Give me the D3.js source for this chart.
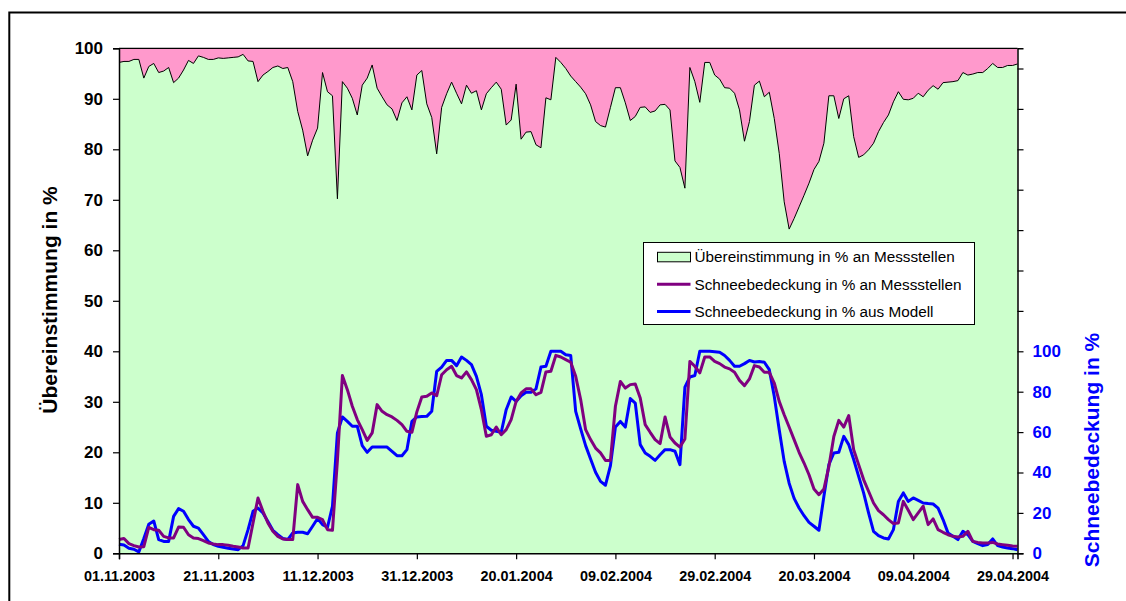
<!DOCTYPE html>
<html>
<head>
<meta charset="utf-8">
<script src="https://cdn.jsdelivr.net/npm/d3@7/dist/d3.min.js"></script>
<style>
  html, body { margin: 0; padding: 0; background: #ffffff; }
  svg { display: block; }
  text { font-family: "Liberation Sans", Arial, sans-serif; }
</style>
</head>
<body>
<svg id="chart" width="1126" height="601"></svg>
<script>
// ---------- DATA (daily, starting 01.11.2003) ----------
const startDate = "01.11.2003";
const tickLabels = ["01.11.2003","21.11.2003","11.12.2003","31.12.2003","20.01.2004",
                    "09.02.2004","29.02.2004","20.03.2004","09.04.2004","29.04.2004"];
const leftTicks = [0,10,20,30,40,50,60,70,80,90,100];
const rightTicks = [0,20,40,60,80,100,120,140,160,180,200,220,240];
const seriesNames = ["Übereinstimmung in % an Messstellen",
                     "Schneebedeckung in % an Messstellen",
                     "Schneebedeckung in % aus Modell"];

const agreement = [
 97.2,97.4,97.4,97.8,97.8,94.1,96.4,97.0,95.2,95.5,96.2,93.2,94.1,95.7,97.6,97.0,98.5,98.2,97.8,97.8,
 98.1,98.0,98.1,98.2,98.3,98.8,97.5,97.4,93.4,94.7,95.4,96.2,96.5,96.0,96.2,93.4,87.5,83.8,78.7,81.8,
 84.2,95.2,91.4,90.6,70.2,93.4,92.1,90.1,86.8,92.7,94.1,96.7,92.1,90.4,88.8,88.0,85.7,89.2,90.4,87.8,
 94.7,95.6,89.0,86.3,79.1,88.3,91.0,93.3,91.1,89.0,92.7,91.1,91.6,87.8,91.0,92.2,93.3,91.9,84.8,85.8,
 92.9,82.0,83.4,83.5,80.9,80.3,90.2,89.8,98.2,97.2,96.0,94.5,93.4,92.3,91.0,88.8,85.5,84.7,84.4,88.3,
 92.2,92.2,89.2,85.7,86.5,88.3,88.4,87.3,87.6,88.8,88.9,87.8,77.7,76.4,72.3,96.2,93.4,89.3,97.2,97.2,
 94.7,93.9,92.2,92.1,91.1,87.8,81.6,85.5,92.7,93.5,90.4,91.3,86.1,79.2,69.6,64.2,66.3,68.6,70.9,73.3,
 76.0,77.6,81.2,90.6,90.6,86.1,90.0,90.6,82.5,78.4,78.9,79.9,81.2,83.5,85.3,86.8,89.4,91.4,89.9,89.8,
 90.1,91.1,90.4,91.7,92.6,91.9,93.2,93.3,93.4,93.6,95.2,94.7,94.9,95.2,95.2,96.0,97.0,96.2,96.2,96.6,
 96.6,96.9
];

const snowMeasured = [
 6.8,7.3,4.8,3.8,3.1,3.3,12.8,11.7,11.4,8.4,7.6,7.6,13.0,12.9,9.2,7.6,7.3,6.3,5.1,4.6,
 4.3,4.3,4.0,3.5,3.1,2.6,2.6,15.0,27.4,20.8,15.0,10.9,8.4,7.1,6.8,6.8,34.0,25.7,21.6,17.8,
 17.8,16.7,11.7,11.4,46.0,88.0,81.0,72.8,66.2,61.2,55.9,59.6,73.6,70.3,68.6,67.5,65.8,63.7,60.4,59.9,
 70.0,77.4,77.7,79.4,78.0,88.4,90.9,92.6,88.0,86.8,89.8,86.0,81.0,71.1,57.9,58.7,62.5,58.7,61.2,66.2,
 75.2,79.4,81.4,81.4,78.5,79.7,89.8,90.1,98.0,97.2,95.9,94.6,87.6,76.1,61.2,56.3,52.1,49.7,46.0,46.0,
 72.8,85.1,81.8,83.5,83.8,76.9,63.7,59.9,56.3,54.3,67.5,57.6,54.6,52.6,56.6,95.0,92.6,89.3,97.2,97.2,
 95.0,93.9,92.2,91.3,89.6,85.6,83.0,86.3,92.9,92.2,89.6,89.6,84.3,75.2,68.6,62.5,56.3,50.0,44.7,38.9,
 31.8,29.0,31.8,42.9,57.8,65.8,62.5,68.2,51.3,43.9,36.5,30.7,24.9,21.1,19.1,16.7,14.7,15.0,25.7,21.3,
 16.7,20.0,23.3,14.2,17.0,11.7,10.4,9.2,8.4,8.1,8.4,10.9,5.9,5.4,5.1,5.1,5.4,4.6,4.3,4.0,
 3.6,3.5
];

const snowModel = [
 4.5,4.1,2.5,2.0,0.7,7.3,14.4,16.0,6.8,5.9,5.9,18.3,22.1,20.8,16.7,13.4,12.5,9.2,5.9,4.3,
 3.5,3.0,2.5,2.1,1.8,3.8,11.7,20.8,22.4,20.0,15.8,11.4,9.2,7.3,6.8,10.1,10.4,10.4,9.7,13.4,
 17.2,14.2,12.9,23.3,59.6,67.5,65.3,62.9,62.9,53.3,50.0,52.6,52.6,52.6,52.6,50.5,48.3,48.3,51.3,65.3,
 67.5,67.7,67.8,70.3,90.1,92.2,95.5,95.5,92.9,97.2,95.5,93.4,87.6,78.5,62.9,60.9,60.4,59.9,71.1,77.4,
 75.2,78.0,79.7,79.7,81.4,92.2,92.6,100,100,100,98.3,97.9,70.3,61.6,53.3,46.7,40.1,35.6,33.7,43.4,
 62.5,65.3,62.5,76.6,74.4,53.8,49.7,48.0,46.0,48.8,51.3,51.3,50.5,43.9,82.3,87.3,88.0,100,100,100,
 99.8,99.5,97.9,95.5,92.6,92.6,93.9,95.5,94.7,95.0,94.6,90.9,77.7,61.2,45.5,34.7,27.2,22.4,18.6,15.3,
 13.4,11.4,28.2,43.9,49.7,50.0,57.9,53.8,46.4,38.1,29.9,20.0,10.9,8.7,7.6,7.1,11.7,25.7,29.9,25.7,
 27.4,26.2,24.9,24.6,24.4,22.4,16.7,10.1,8.4,6.8,10.9,9.2,5.9,4.8,3.8,4.3,7.1,3.8,3.1,2.6,
 2.3,1.8
];

// ---------- SETUP ----------
const parseD = d3.utcParse("%d.%m.%Y");
const fmtD = d3.utcFormat("%d.%m.%Y");
const t0 = parseD(startDate);
const dates = agreement.map((_, i) => d3.utcDay.offset(t0, i));

const svg = d3.select("#chart");
const L = 119, R = 1017.5, T = 48.3, B = 553.3;

const x = d3.scaleUtc().domain([dates[0], dates[dates.length - 1]]).range([L, R]);
const yL = d3.scaleLinear().domain([0, 100]).range([B, T]);
const yR = d3.scaleLinear().domain([0, 250]).range([B, T]);

const GREEN = "#CCFFCC", PINK = "#FF99CC", PURPLE = "#800080", BLUE = "#0000FF";

// outer chart frame (clipped by the window like the reference)
svg.append("rect").attr("x", 9.3).attr("y", 12.5).attr("width", 1140).attr("height", 620)
  .attr("fill", "none").attr("stroke", "#000").attr("stroke-width", 2);

// plot background (pink)
svg.append("rect").attr("x", L).attr("y", T).attr("width", R - L).attr("height", B - T)
  .attr("fill", PINK);

// agreement area (green)
const area = d3.area().x((d, i) => x(dates[i])).y0(B).y1(d => yL(d));
svg.append("path").datum(agreement).attr("d", area).attr("fill", GREEN);
const topLine = d3.line().x((d, i) => x(dates[i])).y(d => yL(d));
svg.append("path").datum(agreement).attr("d", topLine)
  .attr("fill", "none").attr("stroke", "#000").attr("stroke-width", 1);

// snow lines
const snowLine = d3.line().x((d, i) => x(dates[i])).y(d => yR(d));
svg.append("path").datum(snowModel).attr("d", snowLine)
  .attr("fill", "none").attr("stroke", BLUE).attr("stroke-width", 3).attr("stroke-linejoin", "round");
svg.append("path").datum(snowMeasured).attr("d", snowLine)
  .attr("fill", "none").attr("stroke", PURPLE).attr("stroke-width", 3).attr("stroke-linejoin", "round");

// plot frame top
svg.append("line").attr("x1", L).attr("x2", R).attr("y1", T).attr("y2", T)
  .attr("stroke", "#000").attr("stroke-width", 1.2);

// ---------- AXES ----------
const axL = svg.append("g").attr("transform", `translate(${L},0)`)
  .call(d3.axisLeft(yL).tickValues(leftTicks).tickSize(6).tickPadding(10).tickFormat(d3.format("d")));
axL.selectAll("text").attr("font-size", 17).attr("font-weight", "bold").attr("fill", "#000")
  .attr("font-family", "'Liberation Sans', Arial, sans-serif");

const axR = svg.append("g").attr("transform", `translate(${R},0)`)
  .call(d3.axisRight(yR).tickValues(rightTicks).tickSize(6).tickPadding(9)
    .tickFormat(d => d <= 100 ? d : ""));
axR.selectAll("text").attr("font-size", 17).attr("font-weight", "bold").attr("fill", BLUE)
  .attr("font-family", "'Liberation Sans', Arial, sans-serif");

const axB = svg.append("g").attr("transform", `translate(0,${B})`)
  .call(d3.axisBottom(x).tickValues(tickLabels.map(parseD)).tickSize(6).tickPadding(11)
    .tickFormat(fmtD));
axB.selectAll("text").attr("font-size", 14.4).attr("font-weight", "bold").attr("fill", "#000")
  .attr("font-family", "'Liberation Sans', Arial, sans-serif");

[axL, axR, axB].forEach(a => {
  a.select(".domain").attr("stroke", "#000").attr("stroke-width", 1.5);
  a.selectAll(".tick line").attr("stroke", "#000").attr("stroke-width", 1.2);
});

// axis titles
svg.append("text").attr("transform", "translate(50,300) rotate(-90)")
  .attr("text-anchor", "middle").attr("dy", "0.35em")
  .attr("font-size", 21).attr("font-weight", "bold").attr("fill", "#000")
  .text("Übereinstimmung in %");
svg.append("text").attr("transform", "translate(1092,450) rotate(-90)")
  .attr("text-anchor", "middle").attr("dy", "0.35em")
  .attr("font-size", 21).attr("font-weight", "bold").attr("fill", BLUE)
  .text("Schneebedeckung in %");

// ---------- LEGEND ----------
const lg = svg.append("g");
lg.append("rect").attr("x", 643.5).attr("y", 242.5).attr("width", 331).attr("height", 82)
  .attr("fill", "#fff").attr("stroke", "#000").attr("stroke-width", 1);
const rowsY = [256.8, 284.2, 311.6];
lg.append("rect").attr("x", 657.5).attr("y", rowsY[0] - 4.5).attr("width", 33).attr("height", 9.5)
  .attr("fill", GREEN).attr("stroke", "#000").attr("stroke-width", 1);
lg.append("line").attr("x1", 657).attr("x2", 690.5).attr("y1", rowsY[1]).attr("y2", rowsY[1])
  .attr("stroke", PURPLE).attr("stroke-width", 3);
lg.append("line").attr("x1", 657).attr("x2", 690.5).attr("y1", rowsY[2]).attr("y2", rowsY[2])
  .attr("stroke", BLUE).attr("stroke-width", 3);
seriesNames.forEach((n, i) => {
  lg.append("text").attr("x", 694.5).attr("y", rowsY[i]).attr("dy", "0.35em")
    .attr("font-size", 15.3).attr("fill", "#000").text(n);
});
</script>
</body>
</html>
